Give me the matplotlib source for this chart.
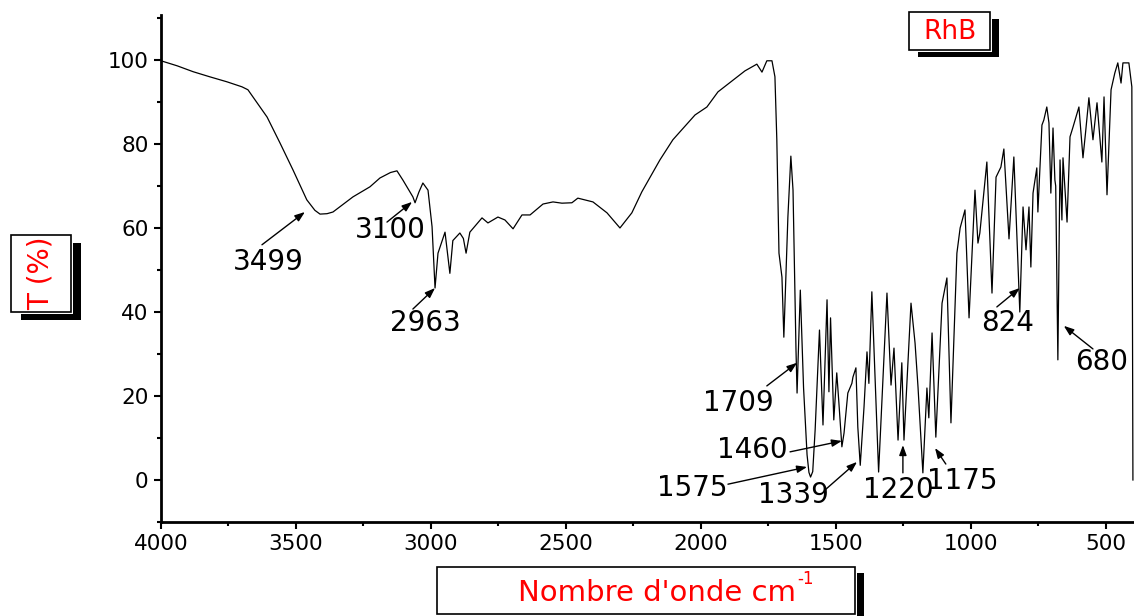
import matplotlib
matplotlib.use("Agg")
import matplotlib.pyplot as plt
from matplotlib.patches import Rectangle
from matplotlib.transforms import Affine2D
from matplotlib.ticker import MultipleLocator

# FTIR spectrum of rhodamine B (wavenumber in cm-1, transmittance in %)
wavenumber = [
    4000, 3940, 3881, 3820, 3756, 3700, 3678, 3644, 3607, 3559, 3511, 3460,
    3430, 3411, 3385, 3363, 3289, 3226, 3189, 3150, 3126, 3104, 3067, 3059,
    3045, 3030, 3011, 2996, 2985, 2974, 2948, 2930, 2919, 2893, 2880, 2870,
    2856, 2811, 2789, 2752, 2726, 2696, 2663, 2633, 2585, 2548, 2515, 2478,
    2456, 2400, 2348, 2300, 2256, 2219, 2152, 2104, 2022, 1978, 1937, 1881,
    1837, 1793, 1774, 1756, 1737, 1726, 1719, 1711, 1700, 1693, 1678, 1667,
    1659, 1648, 1644, 1637, 1632, 1620, 1607, 1600, 1594, 1586, 1577, 1561,
    1548, 1533, 1526, 1520, 1508, 1497, 1489, 1478, 1470, 1456, 1441, 1437,
    1426, 1419, 1410, 1396, 1385, 1378, 1367, 1342, 1311, 1296, 1285, 1270,
    1256, 1248, 1222, 1207, 1196, 1178, 1163, 1156, 1144, 1130, 1107, 1096,
    1089, 1074, 1052, 1040, 1022, 1007, 985, 974, 967, 941, 922, 907,
    889, 878, 859, 841, 819, 807, 796, 785, 778, 770, 756, 752,
    737, 730, 719, 711, 704, 696, 689, 686, 678, 670, 663, 659,
    644, 633, 622, 600, 585, 575, 563, 548, 533, 515, 507, 496,
    481, 467, 456, 444, 437, 415, 404, 400,
]
transmittance = [
    99.8, 98.6, 97.2, 96.0, 94.8, 93.6, 92.9, 89.8, 86.4, 80.2, 73.8, 66.7,
    64.2, 63.3, 63.4, 63.8, 67.4, 69.8, 71.9, 73.2, 73.6, 71.4, 67.4, 66.0,
    68.5, 70.7, 69.0, 60.3, 45.7, 54.0, 59.0, 49.2, 57.0, 58.8, 57.5, 54.0,
    59.0, 62.4, 61.2, 62.6, 61.9, 59.8, 63.1, 63.1, 65.7, 66.2, 65.9, 66.0,
    67.1, 66.2, 63.6, 60.0, 63.6, 68.6, 76.2, 81.0, 86.9, 88.8, 92.4, 95.2,
    97.4, 99.0, 97.1, 99.8, 99.8, 96.0, 81.0, 54.0, 48.3, 34.0, 62.6, 77.1,
    69.0, 31.0, 20.7, 35.0, 45.2, 22.0, 6.0, 1.8, 0.7, 2.0, 12.0, 35.7,
    13.1, 42.9, 21.0, 38.6, 14.3, 25.5, 18.3, 7.9, 11.2, 20.7, 23.0, 24.5,
    26.7, 12.6, 3.5, 17.4, 30.5, 23.0, 44.8, 1.9, 44.5, 22.6, 31.4, 9.5,
    27.9, 9.5, 42.1, 32.6, 22.1, 1.7, 21.9, 14.8, 35.0, 10.2, 42.1, 45.7,
    48.1, 13.6, 54.0, 60.0, 64.3, 38.6, 69.0, 56.4, 58.8, 75.7, 44.5, 72.1,
    74.5, 78.8, 57.4, 76.9, 40.0, 65.0, 54.8, 65.0, 50.7, 68.3, 74.3, 63.8,
    84.5, 85.7, 88.8, 85.0, 68.3, 83.8, 71.4, 70.0, 28.6, 76.2, 61.9, 76.7,
    61.4, 81.7, 84.0, 88.8, 76.7, 83.0, 91.0, 81.0, 89.8, 75.7, 91.2, 67.9,
    92.9, 96.9, 99.3, 94.5, 99.3, 99.3, 93.6, 0.0,
]

# band labels: text, text position, arrow tail, arrow head (data coords)
band_labels = ["3499", "3100", "2963", "1709", "1460", "1575", "1339", "1220", "1175", "824", "680"]
label_pos = [(3604, 51.9), (3152, 59.5), (3022, 37.4), (1863, 18.3), (1811, 7.1), (2033, -1.9),
             (1659, -3.6), (1270, -2.4), (1033, -0.2), (863, 37.4), (515, 28.1)]
arrow_tail = [(3626, 56.0), (3163, 61.4), (3067, 40.7), (1756, 22.4), (1670, 6.7), (1900, -1.0),
              (1541, -2.4), (1252, 1.7), (1093, 3.8), (904, 41.2), (548, 31.2)]
arrow_head = [(3467, 63.8), (3070, 66.2), (2985, 45.7), (1644, 27.9), (1478, 9.3), (1607, 3.1),
              (1422, 4.3), (1252, 8.3), (1133, 7.6), (819, 45.7), (656, 36.7)]

W, H = 1134, 616
fig = plt.figure(figsize=(W / 100, H / 100), dpi=100)
ax = fig.add_axes([161 / W, 1 - 522 / H, 1 - 161 / W, (522 - 15) / H])

ax.plot(wavenumber, transmittance, color="black", lw=0.9, solid_joinstyle="round")
ax.set_xlim(4000, 396)
ax.set_ylim(-10, 110.7)

ax.xaxis.set_major_locator(MultipleLocator(500))
ax.xaxis.set_minor_locator(MultipleLocator(250))
ax.yaxis.set_minor_locator(MultipleLocator(10))
ax.set_yticks(range(0, 101, 20))

for s in ["top", "right"]:
    ax.spines[s].set_visible(False)
for s in ["left", "bottom"]:
    ax.spines[s].set_linewidth(2)
ax.tick_params(which="major", direction="out", length=5, width=1.5, labelsize=15.5, pad=4)
ax.tick_params(which="minor", direction="out", length=3, width=1.5)

for txt, pos, tail, head in zip(band_labels, label_pos, arrow_tail, arrow_head):
    ax.text(pos[0], pos[1], txt, fontsize=20, ha="center", va="center")
    ax.annotate("", xy=head, xytext=tail,
                arrowprops=dict(arrowstyle="-|>,head_length=0.6,head_width=0.22",
                                color="black", lw=1, shrinkA=0, shrinkB=0))

# pixel coordinates (origin top-left) for the boxed labels
px = Affine2D().scale(1 / W, -1 / H).translate(0, 1) + fig.transFigure


def shadow_box(x0, y0, x1, y1, dx, dy):
    fig.patches.append(Rectangle((x0 + dx, y0 + dy), x1 - x0, y1 - y0, transform=px,
                                 facecolor="black", edgecolor="none"))
    fig.patches.append(Rectangle((x0 - 2, y0 - 2), x1 - x0 + 4, y1 - y0 + 4, transform=px,
                                 facecolor="white", edgecolor="none"))
    fig.patches.append(Rectangle((x0, y0), x1 - x0, y1 - y0, transform=px,
                                 facecolor="white", edgecolor="black", lw=1.2))


shadow_box(909, 12, 990, 50, 9, 7)
fig.text(950, 32, "RhB", transform=px, color="red", fontsize=19, ha="center", va="center")

shadow_box(11, 235, 71, 312, 10, 8)
fig.text(41, 273, "T (%)", transform=px, color="red", fontsize=20, rotation=90,
         ha="center", va="center")

shadow_box(437, 567, 855, 614, 9, 6)
fig.text(796, 593, "Nombre d'onde cm", transform=px, color="red",
         fontsize=21, ha="right", va="center")
fig.text(797, 579, "-1", transform=px, color="red", fontsize=12, ha="left", va="center")

fig.savefig("out.png", dpi=100)
